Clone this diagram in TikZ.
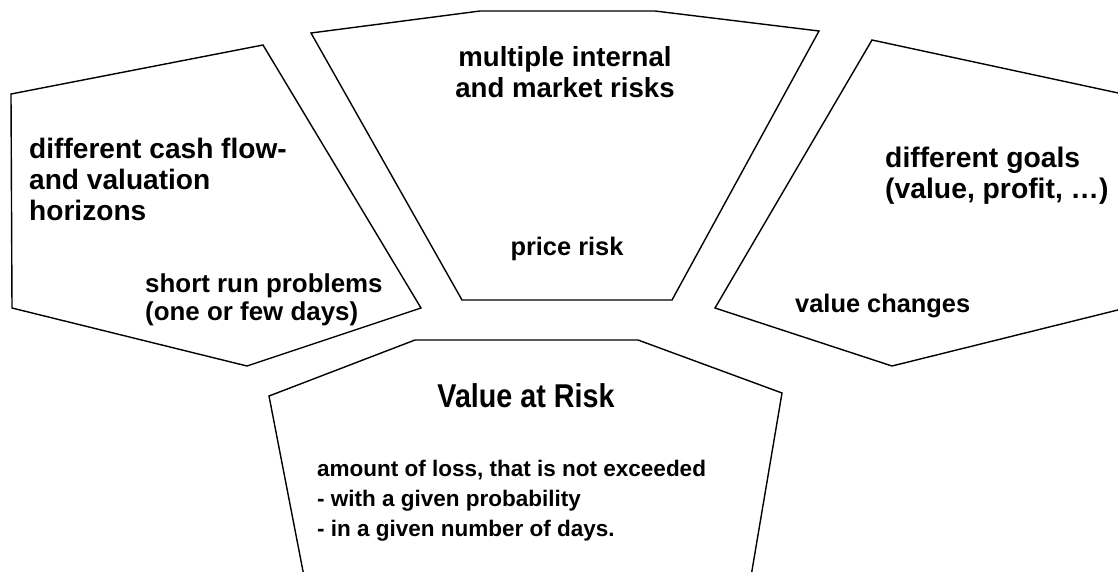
\documentclass[tikz,border=0pt]{standalone}
\usepackage{fontspec}
\setmainfont{Liberation Sans}
\newfontfamily\narrowfont[FakeStretch=0.87]{Liberation Sans}
\begin{document}
\begin{tikzpicture}[x=1pt,y=-1pt,
  panel/.style={draw=black, line width=1.4pt, line join=miter},
  lbl/.style={inner sep=0pt, align=left, anchor=base west},
  clbl/.style={inner sep=0pt, align=center, anchor=base}]
\useasboundingbox (0,0) rectangle (1118,571);
\fill[white] (0,0) rectangle (1118,571);
\begin{scope}
\clip (0,0) rectangle (1118,571);
% left panel
\draw[panel] (11,94) -- (263,45) -- (421,308) -- (247,366) -- (12,308) -- cycle;
% top panel
\draw[panel] (311,33) -- (480,11) -- (655,11) -- (819,31) -- (672,300) -- (462,300) -- cycle;
% right panel
\draw[panel] (872,40) -- (1140,97.7) -- (1140,304.5) -- (892,366) -- (715,308) -- cycle;
% bottom panel
\draw[panel] (415,340) -- (638,340) -- (782,393) -- (747,600) -- (308.6,600) -- (269,396) -- cycle;
\end{scope}
% texts (base anchor = baseline of the last line)
\node[lbl, font=\bfseries\fontsize{28.1}{30.7}\selectfont] (horiz) at (29,220)
  {different cash flow-\\and valuation\\horizons};
\node[lbl, font=\bfseries\fontsize{25.9}{28}\selectfont] (short) at (145,320)
  {short run problems\\(one or few days)};
\node[clbl, font=\bfseries\fontsize{27.6}{30.5}\selectfont] (multi) at (565,97)
  {multiple internal\\and market risks};
\node[clbl, font=\bfseries\fontsize{25.4}{28}\selectfont] (price) at (567,255)
  {price risk};
\node[lbl, font=\bfseries\fontsize{28.3}{31}\selectfont] (goals) at (885,198)
  {different goals\\(value, profit, …)};
\node[lbl, font=\bfseries\fontsize{25.4}{28}\selectfont] (vchg) at (795,312)
  {value changes};
\node[clbl, font=\narrowfont\bfseries\fontsize{33}{36}\selectfont] (var) at (526,407)
  {Value at Risk};
\node[lbl, font=\bfseries\fontsize{22.5}{30}\selectfont] (amount) at (317,536)
  {amount of loss, that is not exceeded\\- with a given probability\\- in a given number of days.};
\end{tikzpicture}
\end{document}
